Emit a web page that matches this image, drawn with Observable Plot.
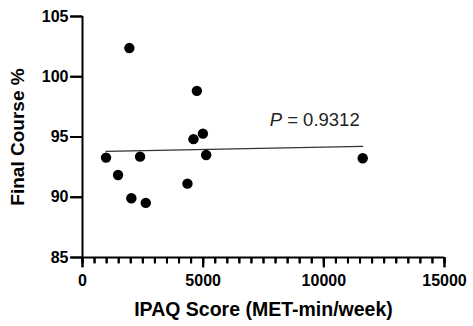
<!DOCTYPE html>
<html><head><meta charset="utf-8">
<script src="https://cdn.jsdelivr.net/npm/d3@7"></script>
<script src="https://cdn.jsdelivr.net/npm/@observablehq/plot@0.6"></script>
<style>
body{margin:0;background:#fff}
svg{font-family:"Liberation Sans",Arial,sans-serif}
</style>
</head><body><div id="chart"></div>
<script>
// Data
const ipaq = [975, 1473, 1942, 2025, 2386, 2622, 4349, 4598, 4739, 4988, 5124, 11611];
const finalCourse = [93.29, 91.85, 102.38, 89.92, 93.37, 89.53, 91.13, 94.82, 98.83, 95.28, 93.51, 93.24];
const xTicks = [0, 5000, 10000, 15000];
const yTicks = [85, 90, 95, 100, 105];
const xMinorTicks = d3.range(0, 15001, 500);
const xTitle = "IPAQ Score (MET-min/week)";
const yTitle = "Final Course %";
const pLabel = "P = 0.9312";
const pAnchorX = [7756];
const pAnchorY = [96.44];

const data = ipaq.map((v, i) => ({ipaq: v, score: finalCourse[i]}));
const annot = [{x: pAnchorX[0], y: pAnchorY[0], label: pLabel}];
const yMin = yTicks[0], xMin = xTicks[0];

// tick-shaped symbols (pixel lengths)
const tickDown = L => ({draw(ctx) { ctx.moveTo(0, 0); ctx.lineTo(0, L); }});
const tickLeft = L => ({draw(ctx) { ctx.moveTo(0, 0); ctx.lineTo(-L, 0); }});

const chart = Plot.plot({
  width: 473,
  height: 326,
  marginLeft: 82,
  marginRight: 29,
  marginTop: 16,
  marginBottom: 69,
  x: {domain: [0, 15000]},
  y: {domain: [85, 105]},
  marks: [
    Plot.linearRegressionY(data, {x: "ipaq", y: "score", ci: 0, stroke: "#333", strokeWidth: 1.3}),
    Plot.dot(data, {x: "ipaq", y: "score", r: 5.2, fill: "black"}),
    Plot.text(annot, {x: "x", y: "y", text: "label", textAnchor: "start", lineAnchor: "middle", fontSize: 18.5, fill: "#222"}),
    Plot.text([xTitle], {frameAnchor: "bottom", dy: 52, lineAnchor: "middle", fontSize: 19.5, fontWeight: "bold", fill: "black"}),
    Plot.text([yTitle], {frameAnchor: "left", dx: -65, rotate: -90, textAnchor: "middle", lineAnchor: "middle", fontSize: 19, fontWeight: "bold", fill: "black"}),
    // axes: tick marks and labels
    Plot.axisX(xMinorTicks, {tickSize: 6, strokeWidth: 2, stroke: "black", text: null, label: null}),
    Plot.axisX(xTicks, {tickSize: 10, tickPadding: 7, strokeWidth: 2, stroke: "black", fontSize: 16, fontWeight: "bold", label: null, tickFormat: "d"}),
    Plot.axisY(yTicks, {tickSize: 12, tickPadding: 2, strokeWidth: 2, stroke: "black", fontSize: 16, fontWeight: "bold", label: null, tickFormat: "d"}),
    Plot.dot(xMinorTicks, {x: d => d, y: () => yMin, symbol: tickDown(6), stroke: "black", strokeWidth: 2, fill: "none"}),
    Plot.dot(xTicks, {x: d => d, y: () => yMin, symbol: tickDown(10), stroke: "black", strokeWidth: 2, fill: "none"}),
    Plot.dot(yTicks, {x: () => xMin, y: d => d, symbol: tickLeft(12), stroke: "black", strokeWidth: 2, fill: "none"}),
    // axis lines
    Plot.ruleX([xMin], {strokeWidth: 2, stroke: "black"}),
    Plot.ruleY([yMin], {strokeWidth: 2, stroke: "black"})
  ]
});

d3.select(chart).selectAll("text").each(function() {
  if (this.textContent === pLabel) {
    const el = d3.select(this);
    el.text(null);
    el.append("tspan").attr("font-style", "italic").text("P");
    el.append("tspan").text(pLabel.slice(1));
  }
});

document.getElementById("chart").appendChild(chart);
</script>
</body></html>
